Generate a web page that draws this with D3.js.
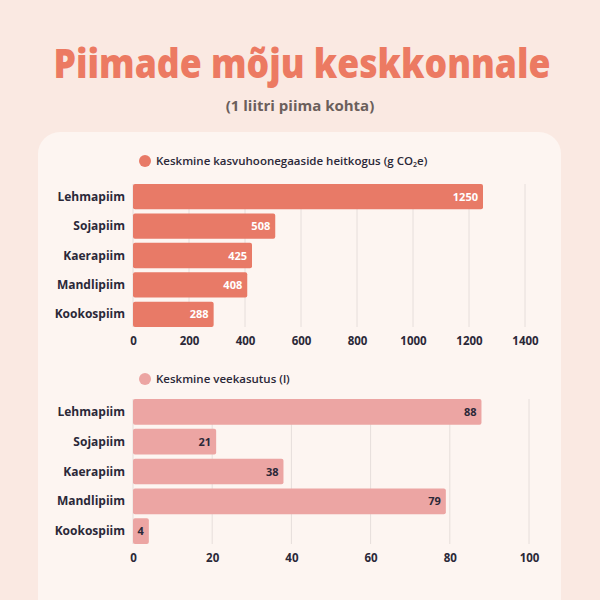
<!doctype html>
<html><head><meta charset="utf-8">
<script src="https://cdn.jsdelivr.net/npm/d3@7"></script>
<style>
body{margin:0;background:#fae8e1;font-family:"Open Sans",sans-serif;}
</style></head><body>
<svg id="c" width="600" height="600"></svg>
<script>
var categories = ['Lehmapiim','Sojapiim','Kaerapiim','Mandlipiim','Kookospiim'];
var emissions = [1250, 508, 425, 408, 288];
var water = [88, 21, 38, 79, 4];
var ticks1 = [0,200,400,600,800,1000,1200,1400];
var ticks2 = [0,20,40,60,80,100];

var svg = d3.select('#c');
svg.append('rect').attr('width',600).attr('height',600).attr('fill','#fae9e2');
svg.append('rect').attr('x',38).attr('y',132).attr('width',523).attr('height',500).attr('rx',22).attr('fill','#fdf5f1');

svg.append('text').attr('x',302).attr('y',78).attr('text-anchor','middle')
  .attr('font-size',40).attr('font-weight',800).attr('fill','#ec7a62')
  .attr('textLength',497).attr('lengthAdjust','spacingAndGlyphs').text('Piimade mõju keskkonnale');
svg.append('text').attr('x',300).attr('y',111).attr('text-anchor','middle')
  .attr('font-size',15).attr('font-weight',700).attr('fill','#6b5f5c').text('(1 liitri piima kohta)');

function chart(vals, max, ticks, y0, y1, color, legendY, legend, labelInside, sub){
  var x = d3.scaleLinear().domain([0,max]).range([133, max==1400?525:529]);
  var y = d3.scaleBand().domain(categories).range([y0,y1]).paddingInner(0.14);
  var g = svg.append('g');
  g.selectAll('line.grid').data(ticks).join('line')
    .attr('x1',d=>x(d)).attr('x2',d=>x(d)).attr('y1',y0).attr('y2',y1)
    .attr('stroke','#e6dedb').attr('stroke-width',1);
  g.selectAll('rect.bar').data(vals).join('rect')
    .attr('x',x(0)).attr('y',(d,i)=>y(categories[i])).attr('width',d=>x(d)-x(0))
    .attr('height',y.bandwidth()).attr('rx',2).attr('fill',color);
  g.selectAll('text.val').data(vals).join('text')
    .attr('x',d=>x(d)-5).attr('y',(d,i)=>y(categories[i])+y.bandwidth()/2+4)
    .attr('text-anchor','end').attr('font-size',11).attr('font-weight',700)
    .attr('fill',labelInside).text(d=>d);
  g.selectAll('text.cat').data(categories).join('text')
    .attr('x',125).attr('y',d=>y(d)+y.bandwidth()/2+4).attr('text-anchor','end')
    .attr('font-size',12).attr('font-weight',700).attr('fill','#2b2838').text(d=>d);
  var ax = g.append('g').attr('transform','translate(0,'+(y1+2)+')')
    .call(d3.axisBottom(x).tickValues(ticks).tickFormat(d3.format('d')).tickSize(0).tickPadding(8));
  ax.select('.domain').remove();
  ax.selectAll('text').attr('font-size',11.5).attr('font-weight',700).attr('fill','#2b2838')
    .attr('font-family','"Open Sans",sans-serif');
  svg.append('circle').attr('cx',145).attr('cy',legendY).attr('r',6).attr('fill',color);
  var t = svg.append('text').attr('x',156).attr('y',legendY+4).attr('font-size',11.5)
    .attr('font-weight',600).attr('fill','#2b2838').text(legend);
  if (sub){
    t.append('tspan').attr('font-size',7).attr('dy',2).text('2');
    t.append('tspan').attr('dy',-2).text('e)');
  }
}
chart(emissions,1400,ticks1,184,327,'#e87a67',161,'Keskmine kasvuhoonegaaside heitkogus (g CO','#ffffff',true);
chart(water,100,ticks2,399,544,'#eca5a3',379,'Keskmine veekasutus (l)','#2b2838',false);
</script></body></html>
